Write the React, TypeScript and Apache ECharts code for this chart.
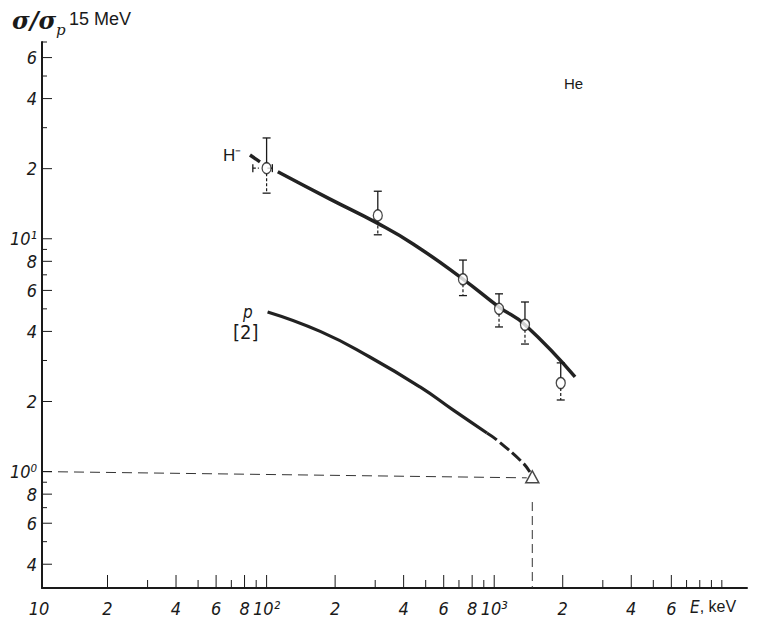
import React, { useEffect, useRef } from 'react';
import * as echarts from 'echarts';

// Axis extents (log scales)
const X_MIN = 10.31;
const X_MAX = 12900;
const Y_MIN = 0.3162;
const Y_MAX = 70;

// H- measured points (E in keV, sigma/sigma_p)
const hE = [100, 308, 729, 1050, 1365, 1960];
const hRatio = [20.1, 12.6, 6.7, 5.0, 4.27, 2.4];
const hErrHigh = [27.1, 16.0, 8.1, 5.8, 5.35, 2.93];
const hErrLow = [15.7, 10.4, 5.7, 4.18, 3.53, 2.03];
// horizontal error of the first point
const p1ELow = 87;
const p1EHigh = 106;

// H- fitted curve
const hLeadE = [84.5, 93.5];
const hLeadR = [22.9, 21.4];
const hCurveE = [112, 190, 305, 440, 729, 1050, 1365, 2265];
const hCurveR = [19.4, 14.8, 11.7, 9.5, 6.71, 5.09, 4.27, 2.55];

// p curve [2]
const pSolidE = [101, 172, 284, 472, 659, 929];
const pSolidR = [4.85, 4.0, 3.105, 2.31, 1.84, 1.465];
const pDashE = [929, 1028, 1338, 1435];
const pDashR = [1.465, 1.367, 1.089, 0.996];

// normalisation point
const normE = 1470;
const normR = 0.95;
const hRefE = [X_MIN, 1390];
const hRefR = [1.0, 0.94];
const vRefR = [0.74, Y_MIN];

// ticks & labels
const xMajorTicks = [20, 40, 60, 80, 100, 200, 400, 600, 800, 1000, 2000, 4000, 6000];
const xMinorTicks = [30, 50, 70, 90, 300, 500, 700, 900, 3000, 5000, 7000, 8000, 9000, 10000];
const xLabelValues = [10, 20, 40, 60, 80, 100, 200, 400, 600, 800, 1000, 2000, 4000, 6000];
const xLabelTexts = ['10', '2', '4', '6', '8', '10²', '2', '4', '6', '8', '10³', '2', '4', '6'];
const yMajorTicks = [0.4, 0.6, 0.8, 1, 2, 4, 6, 8, 10, 20, 40, 60];
const yMinorTicks = [0.5, 0.7, 0.9, 3, 5, 7, 9, 30, 50, 70];
const yLabelTexts = ['4', '6', '8', '10⁰', '2', '4', '6', '8', '10¹', '2', '4', '6'];

const INK = '#1a1a1a';
const LABEL_FONT = "'Liberation Sans Narrow', 'DejaVu Sans Condensed', 'Liberation Sans', sans-serif";

function tickSeries(values: number[], axis: 'x' | 'y', len: number) {
  return {
    type: 'custom',
    silent: true,
    clip: false,
    z: 5,
    data: values.map((v) => (axis === 'x' ? [v, Y_MIN] : [X_MIN, v])),
    renderItem: (params: any, api: any) => {
      const p = api.coord([api.value(0), api.value(1)]);
      const shape =
        axis === 'x'
          ? { x1: p[0], y1: p[1], x2: p[0], y2: p[1] - len }
          : { x1: p[0], y1: p[1], x2: p[0] + len, y2: p[1] };
      return { type: 'line', shape, style: { stroke: INK, lineWidth: 1 } };
    },
  };
}

function labelSeries(values: number[], texts: string[], axis: 'x' | 'y') {
  return {
    type: 'custom',
    silent: true,
    clip: false,
    z: 5,
    data: values.map((v) => (axis === 'x' ? [v, Y_MIN] : [X_MIN, v])),
    renderItem: (params: any, api: any) => {
      const p = api.coord([api.value(0), api.value(1)]);
      const text = texts[params.dataIndex];
      return {
        type: 'text',
        x: axis === 'x' ? p[0] : p[0] - 5,
        y: axis === 'x' ? p[1] + 20 : p[1],
        style: {
          text,
          fill: INK,
          fontFamily: LABEL_FONT,
          fontStyle: 'italic',
          fontSize: 18,
          align: axis === 'x' ? 'center' : 'right',
          verticalAlign: 'middle',
        },
      };
    },
  };
}

export default function App() {
  const ref = useRef<HTMLDivElement>(null);

  useEffect(() => {
    if (!ref.current) return;
    const chart = echarts.init(ref.current, undefined, { renderer: 'svg' });

    const pair = (xs: number[], ys: number[]) => xs.map((x, i) => [x, ys[i]]);

    const option: any = {
      animation: false,
      backgroundColor: '#ffffff',
      grid: { left: 42, right: 16, top: 42, bottom: 32 },
      xAxis: {
        type: 'log',
        logBase: 10,
        min: X_MIN,
        max: X_MAX,
        axisLine: { show: true, lineStyle: { color: INK, width: 2 } },
        axisTick: { show: false },
        axisLabel: { show: false },
        splitLine: { show: false },
      },
      yAxis: {
        type: 'log',
        logBase: 10,
        min: Y_MIN,
        max: Y_MAX,
        axisLine: { show: true, lineStyle: { color: INK, width: 2 } },
        axisTick: { show: false },
        axisLabel: { show: false },
        splitLine: { show: false },
      },
      series: [
        tickSeries(xMajorTicks, 'x', 13),
        tickSeries(xMinorTicks, 'x', 8),
        tickSeries(yMajorTicks, 'y', 10),
        tickSeries(yMinorTicks, 'y', 5),
        labelSeries(xLabelValues, xLabelTexts, 'x'),
        labelSeries(yMajorTicks, yLabelTexts, 'y'),
        {
          type: 'line',
          silent: true,
          data: pair(hRefE, hRefR),
          showSymbol: false,
          lineStyle: { color: '#333', width: 1, type: [10, 6] },
        },
        {
          type: 'line',
          silent: true,
          data: [
            [normE, vRefR[0]],
            [normE, vRefR[1]],
          ],
          showSymbol: false,
          lineStyle: { color: '#333', width: 1, type: [9, 5] },
        },
        {
          type: 'line',
          silent: true,
          data: pair(hLeadE, hLeadR),
          showSymbol: false,
          lineStyle: { color: '#222', width: 3.5 },
        },
        {
          type: 'line',
          silent: true,
          data: pair(hCurveE, hCurveR),
          showSymbol: false,
          smooth: 0.5,
          lineStyle: { color: '#222', width: 3.5 },
        },
        {
          type: 'line',
          silent: true,
          data: pair(pSolidE, pSolidR),
          showSymbol: false,
          smooth: 0.5,
          lineStyle: { color: '#222', width: 3.2 },
        },
        {
          type: 'line',
          silent: true,
          data: pair(pDashE, pDashR),
          showSymbol: false,
          smooth: 0.4,
          lineStyle: { color: '#222', width: 3, type: [12, 4] },
        },
        {
          type: 'custom',
          silent: true,
          z: 6,
          data: hE.map((e, i) => [e, hRatio[i], hErrLow[i], hErrHigh[i]]),
          renderItem: (params: any, api: any) => {
            const x = api.value(0);
            const c = api.coord([x, api.value(1)]);
            const hi = api.coord([x, api.value(3)]);
            const lo = api.coord([x, api.value(2)]);
            const st = { stroke: INK, lineWidth: 1.3 };
            const dash = { stroke: INK, lineWidth: 1.2, lineDash: [3, 2] };
            return {
              type: 'group',
              children: [
                { type: 'line', shape: { x1: c[0], y1: c[1] - 5, x2: hi[0], y2: hi[1] }, style: st },
                { type: 'line', shape: { x1: hi[0] - 4, y1: hi[1], x2: hi[0] + 4, y2: hi[1] }, style: st },
                { type: 'line', shape: { x1: c[0], y1: c[1] + 5, x2: lo[0], y2: lo[1] }, style: dash },
                { type: 'line', shape: { x1: lo[0] - 4, y1: lo[1], x2: lo[0] + 4, y2: lo[1] }, style: st },
              ],
            };
          },
        },
        {
          type: 'custom',
          silent: true,
          z: 6,
          encode: { x: [0, 1], y: 2 },
          data: [[p1ELow, p1EHigh, hRatio[0]]],
          renderItem: (params: any, api: any) => {
            const a = api.coord([api.value(0), api.value(2)]);
            const b = api.coord([api.value(1), api.value(2)]);
            const st = { stroke: INK, lineWidth: 1.2, lineDash: [3, 2] };
            const cap = { stroke: INK, lineWidth: 1.3 };
            return {
              type: 'group',
              children: [
                { type: 'line', shape: { x1: a[0], y1: a[1], x2: a[0] + 6, y2: a[1] }, style: st },
                { type: 'line', shape: { x1: b[0] - 5, y1: b[1], x2: b[0], y2: b[1] }, style: cap },
                { type: 'line', shape: { x1: a[0], y1: a[1] - 4, x2: a[0], y2: a[1] + 4 }, style: cap },
                { type: 'line', shape: { x1: b[0], y1: b[1] - 4, x2: b[0], y2: b[1] + 4 }, style: cap },
              ],
            };
          },
        },
        {
          type: 'scatter',
          silent: true,
          z: 7,
          data: pair(hE, hRatio),
          symbol: 'circle',
          symbolSize: [9, 11],
          itemStyle: { color: '#ffffff', borderColor: INK, borderWidth: 1.4 },
        },
        {
          type: 'scatter',
          silent: true,
          z: 7,
          data: [[normE, normR]],
          symbol: 'triangle',
          symbolSize: [13, 12],
          itemStyle: { color: '#ffffff', borderColor: INK, borderWidth: 1.5 },
        },
      ],
      graphic: [
        {
          type: 'text',
          left: 12,
          top: 8,
          style: {
            text: 'σ/σ',
            fill: INK,
            fontFamily: "'DejaVu Serif', serif",
            fontStyle: 'italic',
            fontWeight: 'bold',
            fontSize: 24,
          },
        },
        {
          type: 'text',
          left: 56,
          top: 22,
          style: {
            text: 'p',
            fill: INK,
            fontFamily: "'DejaVu Serif', serif",
            fontStyle: 'italic',
            fontSize: 15,
          },
        },
        {
          type: 'text',
          left: 69,
          top: 10,
          style: {
            text: '15 MeV',
            fill: INK,
            fontFamily: "'Liberation Sans', Arial, sans-serif",
            fontSize: 18,
          },
        },
        {
          type: 'text',
          left: 564,
          top: 76,
          style: {
            text: 'He',
            fill: INK,
            fontFamily: "'Liberation Sans', Arial, sans-serif",
            fontSize: 15,
          },
        },
        {
          type: 'text',
          left: 223,
          top: 147,
          style: {
            text: 'H⁻',
            fill: INK,
            fontFamily: "'Liberation Sans', Arial, sans-serif",
            fontSize: 17,
          },
        },
        {
          type: 'text',
          left: 243,
          top: 303,
          style: {
            text: 'p',
            fill: INK,
            fontFamily: LABEL_FONT,
            fontStyle: 'italic',
            fontSize: 17,
          },
        },
        {
          type: 'text',
          left: 233,
          top: 322,
          style: {
            text: '[2]',
            fill: INK,
            fontFamily: LABEL_FONT,
            fontSize: 20,
          },
        },
        {
          type: 'text',
          left: 690,
          top: 598,
          style: {
            text: '{i|E}, keV',
            fill: INK,
            fontFamily: "'Liberation Sans', Arial, sans-serif",
            fontSize: 16,
            rich: {
              i: {
                fontStyle: 'italic',
                fontSize: 17,
                fontFamily: LABEL_FONT,
                fill: INK,
              },
            },
          },
        },
      ],
    };

    chart.setOption(option);
    return () => {
      chart.dispose();
    };
  }, []);

  return (
    <div
      ref={ref}
      style={{ position: 'absolute', left: 0, top: 0, width: 763, height: 620, background: '#fff' }}
    />
  );
}
